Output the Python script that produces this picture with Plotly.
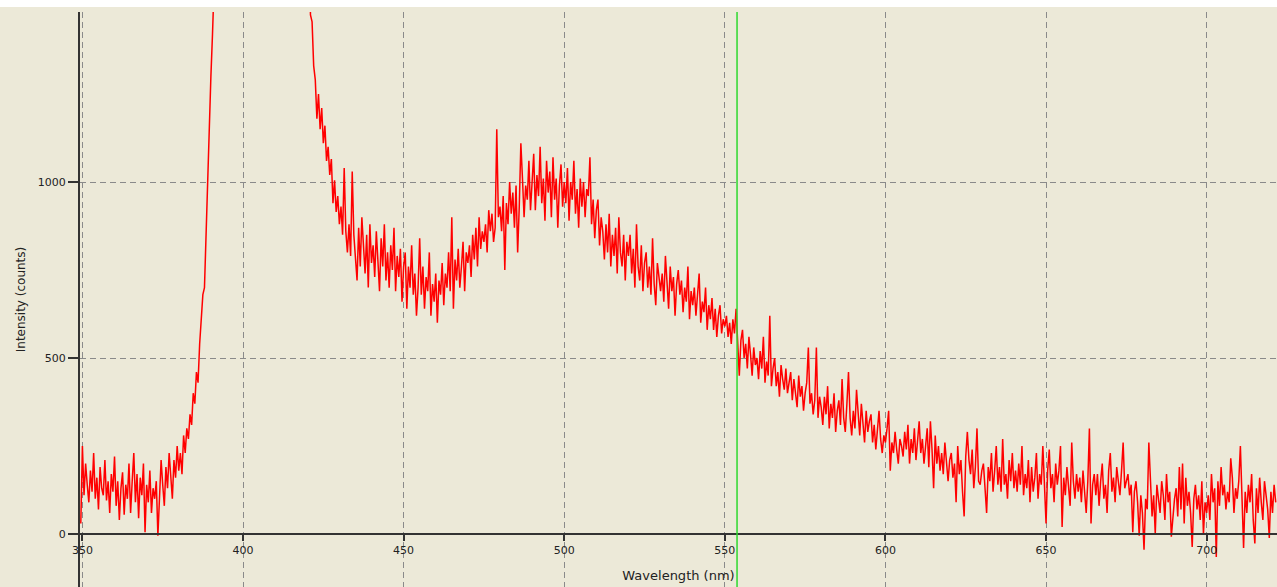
import plotly.graph_objects as go

# ---------------- data ----------------
STEP = 0.5  # nm, sampling step of the spectrometer

# 349.5 .. 391.0 nm : baseline + rising edge of the excitation peak
start_a = 349.5
int_350_391 = [30, 250, 110, 200, 140, 90, 180, 120, 230, 100,
               160, 70, 190, 130, 110, 210, 95, 150, 60, 170,
               120, 220, 80, 150, 40, 130, 175, 55, 140, 100,
               200, 60, 150, 230, 90, 170, 45, 160, 110, 200,
               5, 140, 90, 180, 60, 130, 100, 150, -5, 120,
               210, 140, 80, 190, 130, 230, 150, 100, 210, 160,
               250, 180, 230, 170, 280, 230, 300, 270, 340, 310,
               400, 370, 460, 430, 540, 600, 680, 700, 860, 1000,
               1150, 1300, 1420, 1560]

# off-scale excitation peak (above the visible range)
gap_wl = [392.0, 400.0, 410.0, 420.0]
gap_int = [2500, 9000, 7000, 1900]

start_b1 = 420.5
int_420_470 = [1620, 1475, 1455, 1330, 1290, 1180, 1250, 1150, 1210, 1110,
               1160, 1060, 1100, 1020, 1065, 940, 1005, 915, 960, 880,
               930, 850, 1040, 860, 800, 880, 790, 1030, 850, 770,
               720, 870, 760, 900, 800, 740, 850, 700, 880, 770,
               820, 730, 860, 780, 690, 840, 760, 880, 720, 800,
               700, 820, 750, 870, 690, 790, 730, 810, 660, 760,
               800, 640, 760, 700, 820, 680, 740, 620, 700, 840,
               680, 760, 640, 730, 690, 800, 620, 710, 660, 740,
               600, 720, 680, 770, 650, 740, 700, 800, 690, 900,
               640, 780, 720, 810, 700, 760, 830, 690, 800, 770]

start_b2 = 470.5
int_470_520 = [820, 730, 850, 780, 870, 760, 900, 810, 860, 830,
               880, 800, 920, 860, 910, 830, 870, 1150, 900, 930,
               860, 960, 750, 940, 880, 1000, 910, 970, 870, 990,
               800, 930, 1110, 1010, 900, 990, 950, 1060, 920, 1000,
               1080, 920, 1020, 960, 1100, 940, 1010, 890, 1060, 970,
               1030, 900, 1070, 950, 1010, 870, 990, 1050, 930, 1000,
               940, 1040, 890, 1000, 950, 1060, 910, 980, 870, 1010,
               930, 1000, 900, 980, 960, 1070, 880, 950, 840, 920,
               950, 820, 900, 860, 780, 880, 800, 910, 760, 850,
               790, 870, 740, 900, 800, 760, 850, 720, 830, 790]

start_b3 = 520.5
int_520_570 = [850, 740, 810, 700, 880, 760, 720, 820, 690, 770,
               800, 700, 760, 680, 840, 710, 650, 770, 720, 690,
               740, 660, 790, 700, 640, 760, 690, 730, 620, 710,
               750, 680, 720, 630, 700, 660, 760, 610, 690, 650,
               700, 620, 680, 740, 600, 660, 630, 700, 580, 650,
               610, 670, 580, 640, 560, 620, 650, 570, 610, 590,
               620, 560, 600, 540, 610, 570, 640, 520, 450, 550,
               580, 500, 540, 470, 560, 510, 450, 530, 480, 500,
               440, 520, 470, 560, 430, 490, 450, 620, 420, 470,
               500, 420, 460, 390, 480, 440, 410, 470, 400, 430]

start_b4 = 570.5
int_570_620 = [460, 380, 440, 400, 360, 450, 390, 420, 350, 400,
               430, 530, 370, 400, 340, 380, 530, 330, 390, 360,
               310, 390, 340, 420, 300, 370, 330, 400, 290, 350,
               380, 310, 440, 330, 290, 370, 460, 330, 280, 350,
               300, 410, 330, 280, 370, 310, 260, 350, 290, 320,
               340, 260, 310, 240, 300, 350, 270, 230, 280, 260,
               300, 350, 180, 260, 230, 290, 240, 200, 270, 250,
               220, 290, 240, 310, 200, 270, 230, 300, 210, 260,
               320, 230, 270, 200, 250, 300, 190, 320, 240, 130,
               280, 200, 250, 180, 230, 170, 260, 190, 150, 210]

start_b5 = 620.5
int_620_670 = [230, 160, 200, 90, 250, 170, 210, 120, 50, 220,
               290, 210, 170, 240, 130, 190, 300, 150, 140, 180,
               200, 130, 60, 190, 150, 230, 120, 180, 250, 140,
               190, 120, 270, 140, 170, 100, 210, 150, 230, 130,
               180, 120, 200, 140, 250, 110, 170, 130, 210, 90,
               190, 120, 160, 230, 100, 170, 140, 250, 110, 30,
               180, 240, 130, 170, 90, 200, 140, 180, 250, 20,
               160, 110, 190, 130, 80, 260, 150, 100, 170, 120,
               160, 90, 180, 120, 60, 150, 300, 30, 140, 170,
               110, 170, 80, 150, 200, 100, 140, 60, 180, 230]

start_b6 = 670.5
int_670_722 = [120, 160, 90, 190, 140, 110, 180, 260, 130, 150,
               170, 110, 140, 5, 120, 150, 90, -5, 110, 60,
               -45, 100, 70, 260, 130, 50, 110, 0, 140, 90,
               60, 150, 110, 40, 170, 90, 120, -8, 60, 100,
               130, 50, 190, 70, 200, 30, 160, 80, 120, 60,
               -37, 100, 140, 70, 110, 40, 150, 0, 90, 60,
               110, 40, 170, 90, 130, -65, 150, 80, 190, 110,
               140, 70, 120, 90, 215, 160, 60, 130, 100, 150,
               250, 80, -40, 120, 60, 140, 90, 170, 40, -27,
               130, 60, 160, 90, 40, 150, 100, 70, -11, 120,
               60, 140, 90]

marker_wl = 553.8  # green cursor line

x_ticks = [350, 400, 450, 500, 550, 600, 650, 700]
y_ticks = [0, 500, 1000]
y_grid_ticks = [500, 1000]
x_range = [349.25, 721.9]
y_range = [-150.6, 1483]

# ---------------- assemble ----------------
wl, inten = [], []
def add(start, vals):
    for i, v in enumerate(vals):
        wl.append(start + STEP * i)
        inten.append(v)

add(start_a, int_350_391)
wl.extend(gap_wl); inten.extend(gap_int)
add(start_b1, int_420_470)
add(start_b2, int_470_520)
add(start_b3, int_520_570)
add(start_b4, int_570_620)
add(start_b5, int_620_670)
add(start_b6, int_670_722)

BG = "#ECE9D8"
GRID = "#8a8a8a"
AX = "#333333"
FONT = "DejaVu Sans"

fig = go.Figure()
fig.add_trace(go.Scatter(x=wl, y=inten, mode="lines",
                         line=dict(color="#FF0000", width=1.5),
                         hoverinfo="skip", showlegend=False))

zero_pos = -y_range[0] / (y_range[1] - y_range[0])
PLOT_H = 587 - 12

fig.update_layout(
    width=1277, height=587,
    margin=dict(l=80, r=0, t=12, b=0),
    paper_bgcolor=BG, plot_bgcolor=BG,
    font=dict(family=FONT, size=11, color="#222222"),
    showlegend=False,
    xaxis=dict(
        range=x_range, tickvals=x_ticks, ticktext=[str(t) for t in x_ticks],
        showgrid=True, gridcolor=GRID, griddash="6px,4px", gridwidth=1,
        zeroline=False, showline=True, linecolor=AX, linewidth=1.5,
        anchor="free", position=zero_pos, layer="above traces",
        ticks="outside", ticklen=6, tickcolor=AX, tickwidth=1.5,
        tickfont=dict(family=FONT, size=11, color="#222222"),
        title=dict(text="Wavelength (nm)", standoff=14,
                   font=dict(family=FONT, size=13, color="#222222")),
    ),
    yaxis=dict(
        range=y_range, tickvals=y_ticks, ticktext=[str(t) for t in y_ticks],
        showgrid=True, gridcolor=GRID, griddash="6px,4px", gridwidth=1,
        zeroline=False, showline=True, linecolor=AX, linewidth=2,
        ticks="outside", ticklen=10, tickcolor=AX, tickwidth=1.5,
        automargin=True,
        tickfont=dict(family=FONT, size=11, color="#222222"),
        title=dict(text="Intensity (counts)", standoff=10,
                   font=dict(family=FONT, size=12, color="#222222")),
    ),
    shapes=[
        dict(type="line", xref="x", yref="paper", x0=marker_wl, x1=marker_wl,
             y0=0, y1=1, line=dict(color="#2ed82e", width=1.5), layer="above"),
        # white strip along the very top of the window
        dict(type="rect", xref="paper", yref="paper", x0=-0.1, x1=1.01,
             y0=1 + 5 / PLOT_H, y1=1 + 13 / PLOT_H, fillcolor="white",
             line=dict(width=0), layer="above"),
    ],
)

fig.write_html("out.html",
               config={"displayModeBar": False},
               post_script="document.body.style.margin='0';"
                           "document.body.style.padding='0';"
                           "document.documentElement.style.overflow='hidden';"
                           "document.body.style.overflow='hidden';")
